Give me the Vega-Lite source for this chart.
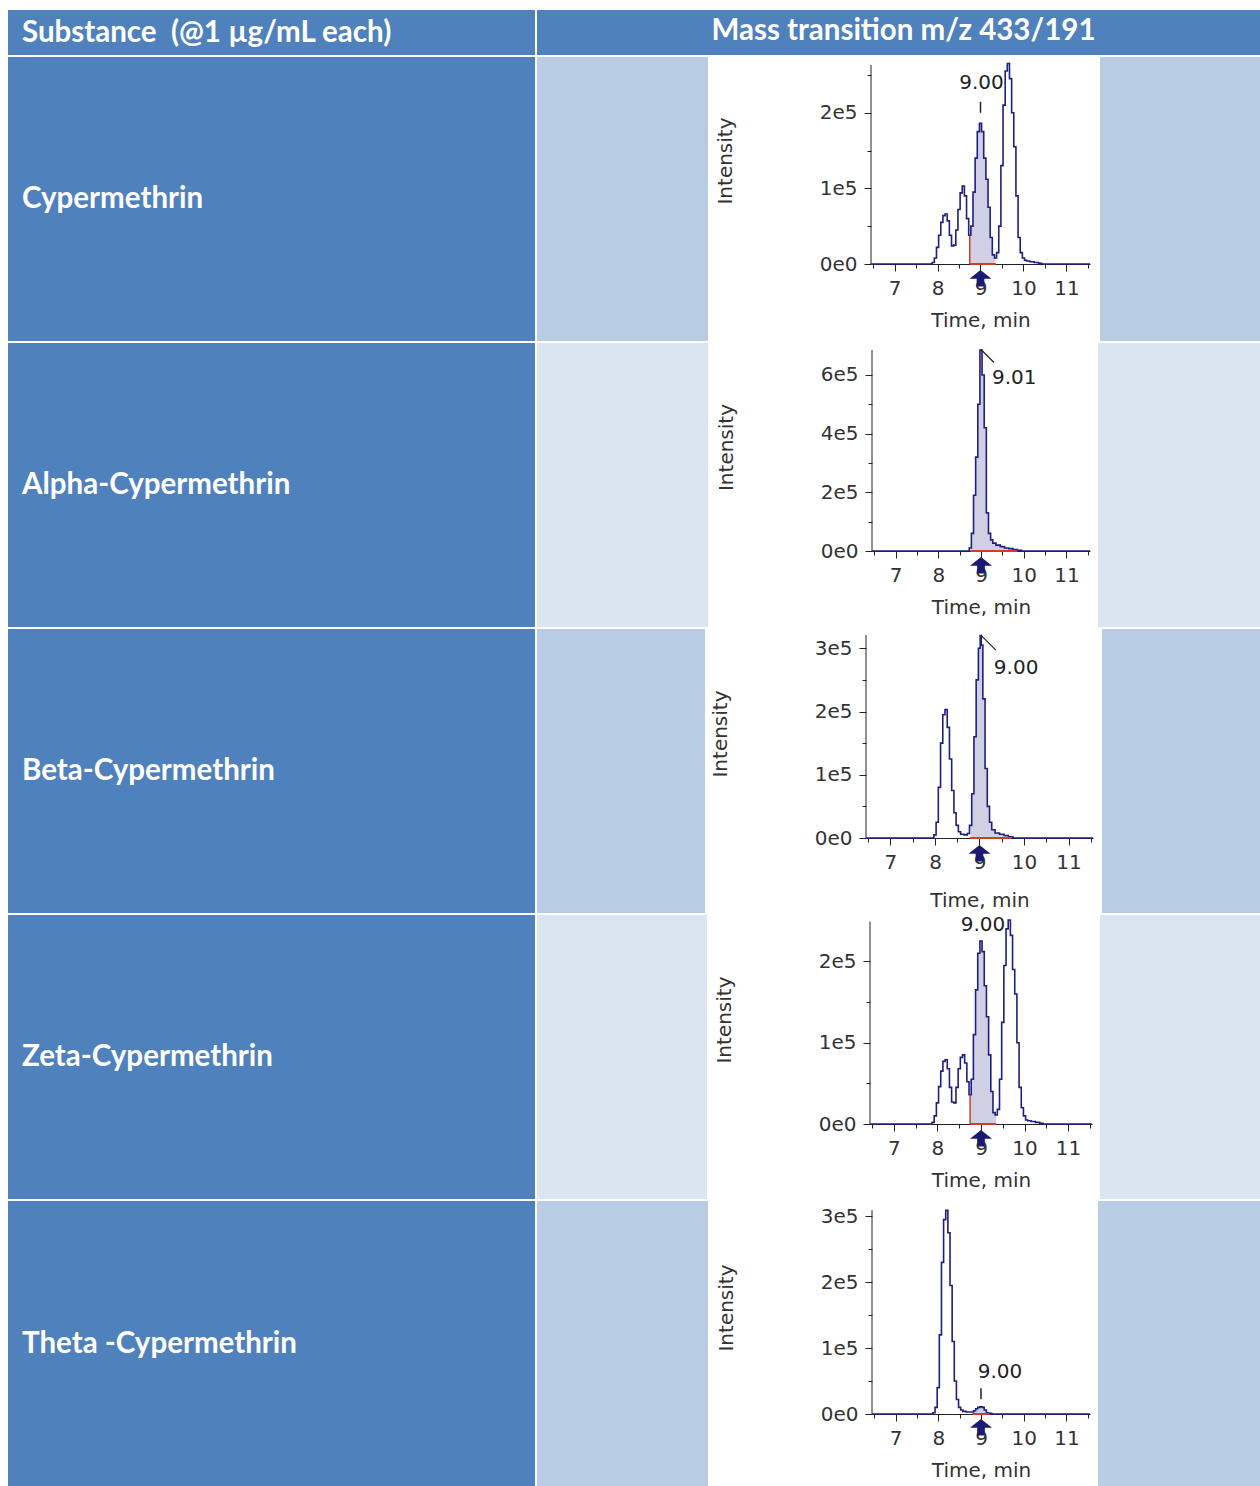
{
"$schema": "https://vega.github.io/schema/vega-lite/v6.json",
"background": "white",
"padding": {"left": 8, "top": 10, "right": 0, "bottom": 0},
"spacing": 2,
"config": {
  "view": {"stroke": null},
  "axis": {"grid": false, "labelFont": "DejaVu Sans", "labelFontSize": 20, "labelColor": "#333333", "titleFont": "DejaVu Sans", "titleFontSize": 20, "titleFontWeight": "normal", "titleColor": "#333333", "domainColor": "#222222", "tickColor": "#222222", "labelOverlap": false, "labelFlush": false},
  "axisX": {"labelPadding": 7, "titlePadding": 12},
  "axisY": {"labelPadding": 7, "titlePadding": 84, "domain": false}
},
"datasets": {
  "cyp": [{"t":6.45,"i":0},{"t":7.85,"i":0},{"t":7.9,"i":2000},{"t":7.95,"i":8000},{"t":8.0,"i":22000},{"t":8.05,"i":38000},{"t":8.1,"i":55000},{"t":8.15,"i":64000},{"t":8.2,"i":66000},{"t":8.25,"i":57000},{"t":8.3,"i":38000},{"t":8.35,"i":24000},{"t":8.4,"i":25000},{"t":8.45,"i":45000},{"t":8.5,"i":72000},{"t":8.55,"i":94000},{"t":8.6,"i":103000},{"t":8.65,"i":90000},{"t":8.7,"i":60000},{"t":8.75,"i":38000},{"t":8.8,"i":50000},{"t":8.85,"i":95000},{"t":8.9,"i":140000},{"t":8.95,"i":175000},{"t":9.0,"i":186000},{"t":9.05,"i":175000},{"t":9.1,"i":140000},{"t":9.15,"i":112000},{"t":9.2,"i":75000},{"t":9.25,"i":35000},{"t":9.3,"i":12000},{"t":9.35,"i":8000},{"t":9.4,"i":15000},{"t":9.45,"i":50000},{"t":9.5,"i":130000},{"t":9.55,"i":210000},{"t":9.6,"i":255000},{"t":9.65,"i":265000},{"t":9.7,"i":245000},{"t":9.75,"i":200000},{"t":9.8,"i":155000},{"t":9.85,"i":90000},{"t":9.9,"i":35000},{"t":9.95,"i":15000},{"t":10.0,"i":8000},{"t":10.05,"i":5000},{"t":10.1,"i":4000},{"t":10.2,"i":3000},{"t":10.3,"i":2000},{"t":10.4,"i":1000},{"t":10.45,"i":0},{"t":11.55,"i":0}],
  "alpha": [{"t":6.45,"i":0},{"t":8.7,"i":0},{"t":8.75,"i":10000},{"t":8.8,"i":60000},{"t":8.85,"i":190000},{"t":8.9,"i":320000},{"t":8.95,"i":500000},{"t":9.0,"i":685000},{"t":9.05,"i":600000},{"t":9.1,"i":420000},{"t":9.15,"i":130000},{"t":9.2,"i":60000},{"t":9.25,"i":38000},{"t":9.3,"i":27000},{"t":9.4,"i":20000},{"t":9.5,"i":15000},{"t":9.6,"i":10000},{"t":9.7,"i":8000},{"t":9.8,"i":5000},{"t":9.9,"i":2000},{"t":10.0,"i":0},{"t":11.55,"i":0}],
  "beta": [{"t":6.45,"i":0},{"t":7.95,"i":0},{"t":8.0,"i":5000},{"t":8.05,"i":25000},{"t":8.1,"i":80000},{"t":8.15,"i":150000},{"t":8.2,"i":195000},{"t":8.25,"i":203000},{"t":8.3,"i":175000},{"t":8.35,"i":125000},{"t":8.4,"i":75000},{"t":8.45,"i":40000},{"t":8.5,"i":20000},{"t":8.55,"i":10000},{"t":8.6,"i":6000},{"t":8.7,"i":5000},{"t":8.75,"i":7000},{"t":8.8,"i":20000},{"t":8.85,"i":70000},{"t":8.9,"i":160000},{"t":8.95,"i":250000},{"t":9.0,"i":300000},{"t":9.03,"i":320000},{"t":9.05,"i":305000},{"t":9.1,"i":220000},{"t":9.15,"i":110000},{"t":9.2,"i":50000},{"t":9.25,"i":25000},{"t":9.3,"i":13000},{"t":9.4,"i":8000},{"t":9.5,"i":6000},{"t":9.6,"i":4000},{"t":9.7,"i":2000},{"t":9.8,"i":0},{"t":11.55,"i":0}],
  "zeta": [{"t":6.45,"i":0},{"t":7.85,"i":0},{"t":7.9,"i":2000},{"t":7.95,"i":10000},{"t":8.0,"i":26000},{"t":8.05,"i":46000},{"t":8.1,"i":65000},{"t":8.15,"i":77000},{"t":8.2,"i":79000},{"t":8.25,"i":68000},{"t":8.3,"i":45000},{"t":8.35,"i":27000},{"t":8.4,"i":26000},{"t":8.45,"i":45000},{"t":8.5,"i":68000},{"t":8.55,"i":82000},{"t":8.6,"i":85000},{"t":8.65,"i":75000},{"t":8.7,"i":52000},{"t":8.75,"i":36000},{"t":8.8,"i":55000},{"t":8.85,"i":110000},{"t":8.9,"i":165000},{"t":8.95,"i":210000},{"t":9.0,"i":225000},{"t":9.05,"i":212000},{"t":9.1,"i":170000},{"t":9.15,"i":132000},{"t":9.2,"i":85000},{"t":9.25,"i":40000},{"t":9.3,"i":14000},{"t":9.35,"i":11000},{"t":9.4,"i":18000},{"t":9.45,"i":55000},{"t":9.5,"i":125000},{"t":9.55,"i":195000},{"t":9.6,"i":240000},{"t":9.65,"i":251000},{"t":9.7,"i":232000},{"t":9.75,"i":190000},{"t":9.8,"i":160000},{"t":9.85,"i":100000},{"t":9.9,"i":45000},{"t":9.95,"i":20000},{"t":10.0,"i":10000},{"t":10.05,"i":5000},{"t":10.1,"i":4000},{"t":10.2,"i":3000},{"t":10.3,"i":2000},{"t":10.4,"i":1000},{"t":10.45,"i":0},{"t":11.55,"i":0}],
  "theta": [{"t":6.45,"i":0},{"t":7.85,"i":0},{"t":7.9,"i":2000},{"t":7.95,"i":10000},{"t":8.0,"i":40000},{"t":8.05,"i":120000},{"t":8.1,"i":230000},{"t":8.15,"i":295000},{"t":8.2,"i":309000},{"t":8.25,"i":275000},{"t":8.3,"i":195000},{"t":8.35,"i":110000},{"t":8.4,"i":50000},{"t":8.45,"i":22000},{"t":8.5,"i":10000},{"t":8.55,"i":6000},{"t":8.6,"i":4000},{"t":8.7,"i":3000},{"t":8.8,"i":3000},{"t":8.85,"i":5000},{"t":8.9,"i":8000},{"t":8.95,"i":10000},{"t":9.0,"i":11000},{"t":9.05,"i":10000},{"t":9.1,"i":6000},{"t":9.15,"i":2000},{"t":9.2,"i":1000},{"t":9.3,"i":0},{"t":11.55,"i":0}],
  "pk_cyp": [{"rt":9.0,"label":"9.00","apex":186000,"start":8.75,"startI":38000,"end":9.35,"expected":9.0,"ymax":263000}],
  "pk_alpha": [{"rt":9.0,"label":"9.01","apex":685000,"start":8.75,"startI":10000,"end":9.85,"expected":9.0,"ymax":685000}],
  "pk_beta": [{"rt":9.03,"label":"9.00","apex":320000,"start":8.78,"startI":10000,"end":9.72,"expected":9.0,"ymax":321000}],
  "pk_zeta": [{"rt":9.0,"label":"9.00","apex":225000,"start":8.75,"startI":36000,"end":9.35,"expected":9.0,"ymax":249000}],
  "pk_theta": [{"rt":9.0,"label":"9.00","apex":11000,"start":8.8,"startI":3000,"end":9.2,"expected":9.0,"ymax":309500}]
},
"vconcat": [
  {"hconcat": [
    {"width": 527, "height": 45, "view": {"fill": "#4f81bd"}, "data": {"values": [{"h": "Substance\u00a0 (@1 µg/mL each)"}]}, "mark": {"type": "text", "align": "left", "baseline": "middle", "font": "Lato", "fontWeight": "bold", "fontSize": 29.5, "color": "white", "dx": 14}, "encoding": {"text": {"field": "h"}, "x": {"datum": 0, "type": "quantitative", "scale": {"domain": [0, 1]}, "axis": null}}},
    {"width": 2, "height": 45, "data": {"values": [{}]}, "mark": {"type": "text", "text": ""}},
    {"width": 723, "height": 45, "view": {"fill": "#4f81bd"}, "data": {"values": [{"h": "Mass transition m/z 433/191"}]}, "mark": {"type": "text", "align": "center", "baseline": "middle", "font": "Lato", "fontWeight": "bold", "fontSize": 29.5, "color": "white", "dx": 5, "dy": -2}, "encoding": {"text": {"field": "h"}}}
  ], "spacing": 0, "bounds": "flush"},

  {"hconcat": [
    {"width": 527, "height": 284, "view": {"fill": "#4f81bd"}, "data": {"values": [{"s": "Cypermethrin"}]}, "mark": {"type": "text", "align": "left", "baseline": "middle", "font": "Lato", "fontWeight": "bold", "fontSize": 29.5, "color": "white", "dx": 14}, "encoding": {"text": {"field": "s"}, "x": {"datum": 0, "type": "quantitative", "scale": {"domain": [0, 1]}, "axis": null}}},
    {"width": 2, "height": 284, "data": {"values": [{}]}, "mark": {"type": "text", "text": ""}},
    {"width": 171, "height": 284, "view": {"fill": "#b8cce4"}, "data": {"values": [{}]}, "mark": {"type": "text", "text": ""}},
    {"width": 163, "height": 284, "data": {"values": [{}]}, "mark": {"type": "text", "text": ""}},
    {"width": 219, "height": 207, "layer": [
      {"data": {"name": "cyp"}, "transform": [{"filter": "datum.t >= 8.75 && datum.t <= 9.35"}], "mark": {"type": "area", "interpolate": "step", "color": "#2a2a88", "opacity": 0.22},
       "encoding": {
         "x": {"field": "t", "type": "quantitative", "scale": {"domain": [6.45, 11.55], "nice": false, "zero": false}, "axis": {"title": "Time, min", "tickCount": 30, "labelOverlap": false, "labelFlush": false, "values": [6.5,7,7.5,8,8.5,9,9.5,10,10.5,11,11.5], "labelExpr": "abs(datum.value - round(datum.value)) < 0.01 ? format(round(datum.value), 'd') : ''", "tickSize": {"condition": {"test": "abs(datum.value - round(datum.value)) < 0.01", "value": 7}, "value": 4}}},
         "y": {"field": "i", "type": "quantitative", "scale": {"domain": [0, 273600], "nice": false, "zero": true}, "axis": {"title": "Intensity", "tickCount": 30, "labelOverlap": false, "values": [0,50000,100000,150000,200000,250000], "labelExpr": "datum.value === 0 ? '0e0' : (datum.value % 100000 === 0 ? format(datum.value / 100000, 'd') + 'e5' : '')", "tickSize": {"condition": {"test": "datum.value % 100000 === 0", "value": 7}, "value": 4}}}}},
      {"data": {"name": "cyp"}, "mark": {"type": "line", "interpolate": "step", "color": "#1f1f80", "strokeWidth": 1.6},
       "encoding": {"x": {"field": "t", "type": "quantitative", "scale": {"domain": [6.45, 11.55], "nice": false, "zero": false}}, "y": {"field": "i", "type": "quantitative", "scale": {"domain": [0, 273600], "nice": false, "zero": true}}}},
      {"data": {"name": "pk_cyp"}, "mark": {"type": "rule", "color": "#d23c28", "strokeWidth": 2},
       "encoding": {"x": {"field": "start", "type": "quantitative", "scale": {"domain": [6.45, 11.55], "nice": false, "zero": false}}, "x2": {"field": "end"}, "y": {"datum": 0, "type": "quantitative", "scale": {"domain": [0, 273600], "nice": false, "zero": true}}}},
      {"data": {"name": "pk_cyp"}, "mark": {"type": "rule", "color": "#d23c28", "strokeWidth": 1.5},
       "encoding": {"x": {"field": "start", "type": "quantitative", "scale": {"domain": [6.45, 11.55], "nice": false, "zero": false}}, "y": {"field": "startI", "type": "quantitative", "scale": {"domain": [0, 273600], "nice": false, "zero": true}}, "y2": {"datum": 0}}},
      {"data": {"name": "pk_cyp"}, "mark": {"type": "rule", "color": "#222222", "strokeWidth": 1},
       "encoding": {"x": {"datum": 6.45, "type": "quantitative", "scale": {"domain": [6.45, 11.55], "nice": false, "zero": false}}, "y": {"field": "ymax", "type": "quantitative", "scale": {"domain": [0, 273600], "nice": false, "zero": true}}, "y2": {"datum": 0}}},
      {"data": {"name": "pk_cyp"}, "mark": {"type": "point", "shape": "M0,-1L1,-0.2L0.35,-0.2L0.35,0.5L-0.35,0.5L-0.35,-0.2L-1,-0.2Z", "size": 484, "filled": true, "color": "#1a1a70", "opacity": 1, "yOffset": 17},
       "encoding": {"x": {"field": "expected", "type": "quantitative", "scale": {"domain": [6.45, 11.55], "nice": false, "zero": false}}, "y": {"datum": 0, "type": "quantitative", "scale": {"domain": [0, 273600], "nice": false, "zero": true}}}},
      {"data": {"name": "pk_cyp"}, "mark": {"type": "text", "font": "DejaVu Sans", "fontSize": 20, "color": "#222222", "align": "center", "baseline": "middle", "dx": 1, "dy": -40},
       "encoding": {"x": {"field": "rt", "type": "quantitative", "scale": {"domain": [6.45, 11.55], "nice": false, "zero": false}}, "y": {"field": "apex", "type": "quantitative", "scale": {"domain": [0, 273600], "nice": false, "zero": true}}, "text": {"field": "label"}}},
      {"data": {"name": "pk_cyp"}, "mark": {"type": "point", "shape": "M0,-1L0,1", "size": 121, "filled": false, "color": "#222222", "strokeWidth": 1.5, "opacity": 1, "yOffset": -16},
       "encoding": {"x": {"field": "rt", "type": "quantitative", "scale": {"domain": [6.45, 11.55], "nice": false, "zero": false}}, "y": {"field": "apex", "type": "quantitative", "scale": {"domain": [0, 273600], "nice": false, "zero": true}}}}
    ]},
    {"width": 10, "height": 284, "data": {"values": [{}]}, "mark": {"type": "text", "text": ""}},
    {"width": 160, "height": 284, "view": {"fill": "#b8cce4"}, "data": {"values": [{}]}, "mark": {"type": "text", "text": ""}}
  ], "spacing": 0, "bounds": "flush"},

  {"hconcat": [
    {"width": 527, "height": 284, "view": {"fill": "#4f81bd"}, "data": {"values": [{"s": "Alpha-Cypermethrin"}]}, "mark": {"type": "text", "align": "left", "baseline": "middle", "font": "Lato", "fontWeight": "bold", "fontSize": 29.5, "color": "white", "dx": 14}, "encoding": {"text": {"field": "s"}, "x": {"datum": 0, "type": "quantitative", "scale": {"domain": [0, 1]}, "axis": null}}},
    {"width": 2, "height": 284, "data": {"values": [{}]}, "mark": {"type": "text", "text": ""}},
    {"width": 171, "height": 284, "view": {"fill": "#dbe5f1"}, "data": {"values": [{}]}, "mark": {"type": "text", "text": ""}},
    {"width": 164, "height": 284, "data": {"values": [{}]}, "mark": {"type": "text", "text": ""}},
    {"width": 218, "height": 208, "layer": [
      {"data": {"name": "alpha"}, "transform": [{"filter": "datum.t >= 8.75 && datum.t <= 9.85"}], "mark": {"type": "area", "interpolate": "step", "color": "#2a2a88", "opacity": 0.22},
       "encoding": {
         "x": {"field": "t", "type": "quantitative", "scale": {"domain": [6.45, 11.55], "nice": false, "zero": false}, "axis": {"title": "Time, min", "tickCount": 30, "labelOverlap": false, "labelFlush": false, "values": [6.5,7,7.5,8,8.5,9,9.5,10,10.5,11,11.5], "labelExpr": "abs(datum.value - round(datum.value)) < 0.01 ? format(round(datum.value), 'd') : ''", "tickSize": {"condition": {"test": "abs(datum.value - round(datum.value)) < 0.01", "value": 7}, "value": 4}}},
         "y": {"field": "i", "type": "quantitative", "scale": {"domain": [0, 708900], "nice": false, "zero": true}, "axis": {"title": "Intensity", "tickCount": 30, "labelOverlap": false, "values": [0,100000,200000,300000,400000,500000,600000], "labelExpr": "datum.value === 0 ? '0e0' : (datum.value % 200000 === 0 ? format(datum.value / 100000, 'd') + 'e5' : '')", "tickSize": {"condition": {"test": "datum.value % 200000 === 0", "value": 7}, "value": 4}}}}},
      {"data": {"name": "alpha"}, "mark": {"type": "line", "interpolate": "step", "color": "#1f1f80", "strokeWidth": 1.6},
       "encoding": {"x": {"field": "t", "type": "quantitative", "scale": {"domain": [6.45, 11.55], "nice": false, "zero": false}}, "y": {"field": "i", "type": "quantitative", "scale": {"domain": [0, 708900], "nice": false, "zero": true}}}},
      {"data": {"name": "pk_alpha"}, "mark": {"type": "rule", "color": "#d23c28", "strokeWidth": 2},
       "encoding": {"x": {"field": "start", "type": "quantitative", "scale": {"domain": [6.45, 11.55], "nice": false, "zero": false}}, "x2": {"field": "end"}, "y": {"datum": 0, "type": "quantitative", "scale": {"domain": [0, 708900], "nice": false, "zero": true}}}},
      {"data": {"name": "pk_alpha"}, "mark": {"type": "rule", "color": "#222222", "strokeWidth": 1},
       "encoding": {"x": {"datum": 6.45, "type": "quantitative", "scale": {"domain": [6.45, 11.55], "nice": false, "zero": false}}, "y": {"field": "ymax", "type": "quantitative", "scale": {"domain": [0, 708900], "nice": false, "zero": true}}, "y2": {"datum": 0}}},
      {"data": {"name": "pk_alpha"}, "mark": {"type": "point", "shape": "M0,-1L1,-0.2L0.35,-0.2L0.35,0.5L-0.35,0.5L-0.35,-0.2L-1,-0.2Z", "size": 484, "filled": true, "color": "#1a1a70", "opacity": 1, "yOffset": 17},
       "encoding": {"x": {"field": "expected", "type": "quantitative", "scale": {"domain": [6.45, 11.55], "nice": false, "zero": false}}, "y": {"datum": 0, "type": "quantitative", "scale": {"domain": [0, 708900], "nice": false, "zero": true}}}},
      {"data": {"name": "pk_alpha"}, "mark": {"type": "text", "font": "DejaVu Sans", "fontSize": 20, "color": "#222222", "align": "left", "baseline": "middle", "dx": 11, "dy": 28},
       "encoding": {"x": {"field": "rt", "type": "quantitative", "scale": {"domain": [6.45, 11.55], "nice": false, "zero": false}}, "y": {"field": "apex", "type": "quantitative", "scale": {"domain": [0, 708900], "nice": false, "zero": true}}, "text": {"field": "label"}}},
      {"data": {"name": "pk_alpha"}, "mark": {"type": "point", "shape": "M-1,-1L1,1", "size": 169, "filled": false, "color": "#222222", "strokeWidth": 1.2, "opacity": 1, "xOffset": 6.5, "yOffset": 6},
       "encoding": {"x": {"field": "rt", "type": "quantitative", "scale": {"domain": [6.45, 11.55], "nice": false, "zero": false}}, "y": {"field": "apex", "type": "quantitative", "scale": {"domain": [0, 708900], "nice": false, "zero": true}}}}
    ]},
    {"width": 8, "height": 284, "data": {"values": [{}]}, "mark": {"type": "text", "text": ""}},
    {"width": 162, "height": 284, "view": {"fill": "#dbe5f1"}, "data": {"values": [{}]}, "mark": {"type": "text", "text": ""}}
  ], "spacing": 0, "bounds": "flush"},

  {"hconcat": [
    {"width": 527, "height": 284, "view": {"fill": "#4f81bd"}, "data": {"values": [{"s": "Beta-Cypermethrin"}]}, "mark": {"type": "text", "align": "left", "baseline": "middle", "font": "Lato", "fontWeight": "bold", "fontSize": 29.5, "color": "white", "dx": 14}, "encoding": {"text": {"field": "s"}, "x": {"datum": 0, "type": "quantitative", "scale": {"domain": [0, 1]}, "axis": null}}},
    {"width": 2, "height": 284, "data": {"values": [{}]}, "mark": {"type": "text", "text": ""}},
    {"width": 168, "height": 284, "view": {"fill": "#b8cce4"}, "data": {"values": [{}]}, "mark": {"type": "text", "text": ""}},
    {"width": 161, "height": 284, "data": {"values": [{}]}, "mark": {"type": "text", "text": ""}},
    {"width": 227, "height": 209, "layer": [
      {"data": {"name": "beta"}, "transform": [{"filter": "datum.t >= 8.8 && datum.t <= 9.7"}], "mark": {"type": "area", "interpolate": "step", "color": "#2a2a88", "opacity": 0.22},
       "encoding": {
         "x": {"field": "t", "type": "quantitative", "scale": {"domain": [6.45, 11.55], "nice": false, "zero": false}, "axis": {"title": "Time, min", "titlePadding": 18, "tickCount": 30, "labelOverlap": false, "labelFlush": false, "values": [6.5,7,7.5,8,8.5,9,9.5,10,10.5,11,11.5], "labelExpr": "abs(datum.value - round(datum.value)) < 0.01 ? format(round(datum.value), 'd') : ''", "tickSize": {"condition": {"test": "abs(datum.value - round(datum.value)) < 0.01", "value": 7}, "value": 4}}},
         "y": {"field": "i", "type": "quantitative", "scale": {"domain": [0, 330500], "nice": false, "zero": true}, "axis": {"title": "Intensity", "tickCount": 30, "labelOverlap": false, "values": [0,50000,100000,150000,200000,250000,300000], "labelExpr": "datum.value === 0 ? '0e0' : (datum.value % 100000 === 0 ? format(datum.value / 100000, 'd') + 'e5' : '')", "tickSize": {"condition": {"test": "datum.value % 100000 === 0", "value": 7}, "value": 4}}}}},
      {"data": {"name": "beta"}, "mark": {"type": "line", "interpolate": "step", "color": "#1f1f80", "strokeWidth": 1.6},
       "encoding": {"x": {"field": "t", "type": "quantitative", "scale": {"domain": [6.45, 11.55], "nice": false, "zero": false}}, "y": {"field": "i", "type": "quantitative", "scale": {"domain": [0, 330500], "nice": false, "zero": true}}}},
      {"data": {"name": "pk_beta"}, "mark": {"type": "rule", "color": "#d23c28", "strokeWidth": 2},
       "encoding": {"x": {"field": "start", "type": "quantitative", "scale": {"domain": [6.45, 11.55], "nice": false, "zero": false}}, "x2": {"field": "end"}, "y": {"datum": 0, "type": "quantitative", "scale": {"domain": [0, 330500], "nice": false, "zero": true}}}},
      {"data": {"name": "pk_beta"}, "mark": {"type": "rule", "color": "#222222", "strokeWidth": 1},
       "encoding": {"x": {"datum": 6.45, "type": "quantitative", "scale": {"domain": [6.45, 11.55], "nice": false, "zero": false}}, "y": {"field": "ymax", "type": "quantitative", "scale": {"domain": [0, 330500], "nice": false, "zero": true}}, "y2": {"datum": 0}}},
      {"data": {"name": "pk_beta"}, "mark": {"type": "point", "shape": "M0,-1L1,-0.2L0.35,-0.2L0.35,0.5L-0.35,0.5L-0.35,-0.2L-1,-0.2Z", "size": 484, "filled": true, "color": "#1a1a70", "opacity": 1, "yOffset": 18},
       "encoding": {"x": {"field": "expected", "type": "quantitative", "scale": {"domain": [6.45, 11.55], "nice": false, "zero": false}}, "y": {"datum": 0, "type": "quantitative", "scale": {"domain": [0, 330500], "nice": false, "zero": true}}}},
      {"data": {"name": "pk_beta"}, "mark": {"type": "text", "font": "DejaVu Sans", "fontSize": 20, "color": "#222222", "align": "left", "baseline": "middle", "dx": 13, "dy": 32},
       "encoding": {"x": {"field": "rt", "type": "quantitative", "scale": {"domain": [6.45, 11.55], "nice": false, "zero": false}}, "y": {"field": "apex", "type": "quantitative", "scale": {"domain": [0, 330500], "nice": false, "zero": true}}, "text": {"field": "label"}}},
      {"data": {"name": "pk_beta"}, "mark": {"type": "point", "shape": "M-1,-1L1,1", "size": 225, "filled": false, "color": "#222222", "strokeWidth": 1.2, "opacity": 1, "xOffset": 7.5, "yOffset": 7},
       "encoding": {"x": {"field": "rt", "type": "quantitative", "scale": {"domain": [6.45, 11.55], "nice": false, "zero": false}}, "y": {"field": "apex", "type": "quantitative", "scale": {"domain": [0, 330500], "nice": false, "zero": true}}}}
    ]},
    {"width": 9, "height": 284, "data": {"values": [{}]}, "mark": {"type": "text", "text": ""}},
    {"width": 158, "height": 284, "view": {"fill": "#b8cce4"}, "data": {"values": [{}]}, "mark": {"type": "text", "text": ""}}
  ], "spacing": 0, "bounds": "flush"},

  {"hconcat": [
    {"width": 527, "height": 284, "view": {"fill": "#4f81bd"}, "data": {"values": [{"s": "Zeta-Cypermethrin"}]}, "mark": {"type": "text", "align": "left", "baseline": "middle", "font": "Lato", "fontWeight": "bold", "fontSize": 29.5, "color": "white", "dx": 14}, "encoding": {"text": {"field": "s"}, "x": {"datum": 0, "type": "quantitative", "scale": {"domain": [0, 1]}, "axis": null}}},
    {"width": 2, "height": 284, "data": {"values": [{}]}, "mark": {"type": "text", "text": ""}},
    {"width": 170, "height": 284, "view": {"fill": "#dbe5f1"}, "data": {"values": [{}]}, "mark": {"type": "text", "text": ""}},
    {"width": 163, "height": 284, "data": {"values": [{}]}, "mark": {"type": "text", "text": ""}},
    {"width": 222, "height": 209, "layer": [
      {"data": {"name": "zeta"}, "transform": [{"filter": "datum.t >= 8.75 && datum.t <= 9.35"}], "mark": {"type": "area", "interpolate": "step", "color": "#2a2a88", "opacity": 0.22},
       "encoding": {
         "x": {"field": "t", "type": "quantitative", "scale": {"domain": [6.45, 11.55], "nice": false, "zero": false}, "axis": {"title": "Time, min", "tickCount": 30, "labelOverlap": false, "labelFlush": false, "values": [6.5,7,7.5,8,8.5,9,9.5,10,10.5,11,11.5], "labelExpr": "abs(datum.value - round(datum.value)) < 0.01 ? format(round(datum.value), 'd') : ''", "tickSize": {"condition": {"test": "abs(datum.value - round(datum.value)) < 0.01", "value": 7}, "value": 4}}},
         "y": {"field": "i", "type": "quantitative", "scale": {"domain": [0, 257100], "nice": false, "zero": true}, "axis": {"title": "Intensity", "tickCount": 30, "labelOverlap": false, "values": [0,50000,100000,150000,200000], "labelExpr": "datum.value === 0 ? '0e0' : (datum.value % 100000 === 0 ? format(datum.value / 100000, 'd') + 'e5' : '')", "tickSize": {"condition": {"test": "datum.value % 100000 === 0", "value": 7}, "value": 4}}}}},
      {"data": {"name": "zeta"}, "mark": {"type": "line", "interpolate": "step", "color": "#1f1f80", "strokeWidth": 1.6},
       "encoding": {"x": {"field": "t", "type": "quantitative", "scale": {"domain": [6.45, 11.55], "nice": false, "zero": false}}, "y": {"field": "i", "type": "quantitative", "scale": {"domain": [0, 257100], "nice": false, "zero": true}}}},
      {"data": {"name": "pk_zeta"}, "mark": {"type": "rule", "color": "#d23c28", "strokeWidth": 2},
       "encoding": {"x": {"field": "start", "type": "quantitative", "scale": {"domain": [6.45, 11.55], "nice": false, "zero": false}}, "x2": {"field": "end"}, "y": {"datum": 0, "type": "quantitative", "scale": {"domain": [0, 257100], "nice": false, "zero": true}}}},
      {"data": {"name": "pk_zeta"}, "mark": {"type": "rule", "color": "#d23c28", "strokeWidth": 1.5},
       "encoding": {"x": {"field": "start", "type": "quantitative", "scale": {"domain": [6.45, 11.55], "nice": false, "zero": false}}, "y": {"field": "startI", "type": "quantitative", "scale": {"domain": [0, 257100], "nice": false, "zero": true}}, "y2": {"datum": 0}}},
      {"data": {"name": "pk_zeta"}, "mark": {"type": "rule", "color": "#222222", "strokeWidth": 1},
       "encoding": {"x": {"datum": 6.45, "type": "quantitative", "scale": {"domain": [6.45, 11.55], "nice": false, "zero": false}}, "y": {"field": "ymax", "type": "quantitative", "scale": {"domain": [0, 257100], "nice": false, "zero": true}}, "y2": {"datum": 0}}},
      {"data": {"name": "pk_zeta"}, "mark": {"type": "point", "shape": "M0,-1L1,-0.2L0.35,-0.2L0.35,0.5L-0.35,0.5L-0.35,-0.2L-1,-0.2Z", "size": 484, "filled": true, "color": "#1a1a70", "opacity": 1, "yOffset": 17},
       "encoding": {"x": {"field": "expected", "type": "quantitative", "scale": {"domain": [6.45, 11.55], "nice": false, "zero": false}}, "y": {"datum": 0, "type": "quantitative", "scale": {"domain": [0, 257100], "nice": false, "zero": true}}}},
      {"data": {"name": "pk_zeta"}, "mark": {"type": "text", "font": "DejaVu Sans", "fontSize": 20, "color": "#222222", "align": "center", "baseline": "middle", "dx": 2, "dy": -16},
       "encoding": {"x": {"field": "rt", "type": "quantitative", "scale": {"domain": [6.45, 11.55], "nice": false, "zero": false}}, "y": {"field": "apex", "type": "quantitative", "scale": {"domain": [0, 257100], "nice": false, "zero": true}}, "text": {"field": "label"}}}
    ]},
    {"width": 8, "height": 284, "data": {"values": [{}]}, "mark": {"type": "text", "text": ""}},
    {"width": 160, "height": 284, "view": {"fill": "#dbe5f1"}, "data": {"values": [{}]}, "mark": {"type": "text", "text": ""}}
  ], "spacing": 0, "bounds": "flush"},

  {"hconcat": [
    {"width": 527, "height": 285, "view": {"fill": "#4f81bd"}, "data": {"values": [{"s": "Theta -Cypermethrin"}]}, "mark": {"type": "text", "align": "left", "baseline": "middle", "font": "Lato", "fontWeight": "bold", "fontSize": 29.5, "color": "white", "dx": 14}, "encoding": {"text": {"field": "s"}, "x": {"datum": 0, "type": "quantitative", "scale": {"domain": [0, 1]}, "axis": null}}},
    {"width": 2, "height": 285, "data": {"values": [{}]}, "mark": {"type": "text", "text": ""}},
    {"width": 171, "height": 285, "view": {"fill": "#b8cce4"}, "data": {"values": [{}]}, "mark": {"type": "text", "text": ""}},
    {"width": 164, "height": 285, "data": {"values": [{}]}, "mark": {"type": "text", "text": ""}},
    {"width": 218, "height": 213, "layer": [
      {"data": {"name": "theta"}, "transform": [{"filter": "datum.t >= 8.8 && datum.t <= 9.2"}], "mark": {"type": "area", "interpolate": "step", "color": "#2a2a88", "opacity": 0.22},
       "encoding": {
         "x": {"field": "t", "type": "quantitative", "scale": {"domain": [6.45, 11.55], "nice": false, "zero": false}, "axis": {"title": "Time, min", "tickCount": 30, "labelOverlap": false, "labelFlush": false, "values": [6.5,7,7.5,8,8.5,9,9.5,10,10.5,11,11.5], "labelExpr": "abs(datum.value - round(datum.value)) < 0.01 ? format(round(datum.value), 'd') : ''", "tickSize": {"condition": {"test": "abs(datum.value - round(datum.value)) < 0.01", "value": 7}, "value": 4}}},
         "y": {"field": "i", "type": "quantitative", "scale": {"domain": [0, 323200], "nice": false, "zero": true}, "axis": {"title": "Intensity", "tickCount": 30, "labelOverlap": false, "values": [0,50000,100000,150000,200000,250000,300000], "labelExpr": "datum.value === 0 ? '0e0' : (datum.value % 100000 === 0 ? format(datum.value / 100000, 'd') + 'e5' : '')", "tickSize": {"condition": {"test": "datum.value % 100000 === 0", "value": 7}, "value": 4}}}}},
      {"data": {"name": "theta"}, "mark": {"type": "line", "interpolate": "step", "color": "#1f1f80", "strokeWidth": 1.6},
       "encoding": {"x": {"field": "t", "type": "quantitative", "scale": {"domain": [6.45, 11.55], "nice": false, "zero": false}}, "y": {"field": "i", "type": "quantitative", "scale": {"domain": [0, 323200], "nice": false, "zero": true}}}},
      {"data": {"name": "pk_theta"}, "mark": {"type": "rule", "color": "#d23c28", "strokeWidth": 2},
       "encoding": {"x": {"field": "start", "type": "quantitative", "scale": {"domain": [6.45, 11.55], "nice": false, "zero": false}}, "x2": {"field": "end"}, "y": {"datum": 0, "type": "quantitative", "scale": {"domain": [0, 323200], "nice": false, "zero": true}}}},
      {"data": {"name": "pk_theta"}, "mark": {"type": "rule", "color": "#222222", "strokeWidth": 1},
       "encoding": {"x": {"datum": 6.45, "type": "quantitative", "scale": {"domain": [6.45, 11.55], "nice": false, "zero": false}}, "y": {"field": "ymax", "type": "quantitative", "scale": {"domain": [0, 323200], "nice": false, "zero": true}}, "y2": {"datum": 0}}},
      {"data": {"name": "pk_theta"}, "mark": {"type": "point", "shape": "M0,-1L1,-0.2L0.35,-0.2L0.35,0.5L-0.35,0.5L-0.35,-0.2L-1,-0.2Z", "size": 484, "filled": true, "color": "#1a1a70", "opacity": 1, "yOffset": 16},
       "encoding": {"x": {"field": "expected", "type": "quantitative", "scale": {"domain": [6.45, 11.55], "nice": false, "zero": false}}, "y": {"datum": 0, "type": "quantitative", "scale": {"domain": [0, 323200], "nice": false, "zero": true}}}},
      {"data": {"name": "pk_theta"}, "mark": {"type": "text", "font": "DejaVu Sans", "fontSize": 20, "color": "#222222", "align": "center", "baseline": "middle", "dx": 19, "dy": -35},
       "encoding": {"x": {"field": "rt", "type": "quantitative", "scale": {"domain": [6.45, 11.55], "nice": false, "zero": false}}, "y": {"field": "apex", "type": "quantitative", "scale": {"domain": [0, 323200], "nice": false, "zero": true}}, "text": {"field": "label"}}},
      {"data": {"name": "pk_theta"}, "mark": {"type": "point", "shape": "M0,-1L0,1", "size": 121, "filled": false, "color": "#222222", "strokeWidth": 1.5, "opacity": 1, "yOffset": -13},
       "encoding": {"x": {"field": "rt", "type": "quantitative", "scale": {"domain": [6.45, 11.55], "nice": false, "zero": false}}, "y": {"field": "apex", "type": "quantitative", "scale": {"domain": [0, 323200], "nice": false, "zero": true}}}}
    ]},
    {"width": 8, "height": 285, "data": {"values": [{}]}, "mark": {"type": "text", "text": ""}},
    {"width": 162, "height": 285, "view": {"fill": "#b8cce4"}, "data": {"values": [{}]}, "mark": {"type": "text", "text": ""}}
  ], "spacing": 0, "bounds": "flush"}
]
}
